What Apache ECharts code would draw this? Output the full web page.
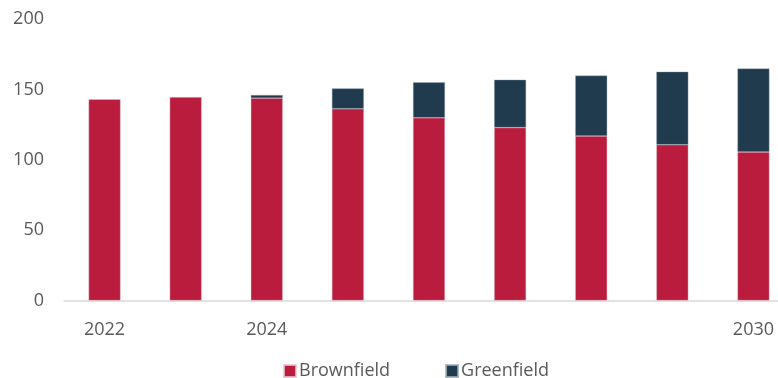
<!DOCTYPE html>
<html><head><meta charset="utf-8">
<script src="https://cdn.jsdelivr.net/npm/echarts@6/dist/echarts.min.js"></script>
<style>html,body{margin:0;padding:0;background:#fff}#c{width:778px;height:378px}</style>
</head><body><div id="c"></div>
<script>
const categories = ["2022","2023","2024","2025","2026","2027","2028","2029","2030"];
const tickLabels = ["2022","","2024","","","","","","2030"];
const brownfield = [143, 144.5, 143.8, 136.2, 129.8, 122.9, 116.9, 110.7, 105.5];
const greenfield = [0, 0, 2.2, 14.5, 25.2, 34, 42.9, 51.9, 59.3];
const yTicks = [0, 50, 100, 150, 200];

const font = "'Open Sans', 'Noto Sans', sans-serif";
const chart = echarts.init(document.getElementById('c'), null, {renderer: 'canvas'});
chart.setOption({
  animation: false,
  grid: {left: 64, width: 730, top: 19, bottom: 77.5, containLabel: false, outerBoundsMode: 'none'},
  legend: {
    data: ['Brownfield', 'Greenfield'],
    left: 278, top: 357,
    itemWidth: 12, itemHeight: 12, itemGap: 55,
    icon: 'rect',
    textStyle: {fontFamily: font, fontSize: 18, color: '#595959', padding: [0,0,0,-2]}
  },
  xAxis: {
    type: 'category', data: categories,
    axisLine: {lineStyle: {color: '#d9d9d9', width: 1.5}},
    axisTick: {show: false},
    axisLabel: {
      interval: 0, margin: 20, fontFamily: font, fontSize: 18, color: '#595959',
      formatter: (v, i) => tickLabels[i]
    }
  },
  yAxis: {
    type: 'value', min: yTicks[0], max: yTicks[yTicks.length-1], interval: 50,
    axisLine: {show: false}, axisTick: {show: false}, splitLine: {show: false},
    axisLabel: {margin: 20, fontFamily: font, fontSize: 18, color: '#595959'}
  },
  series: [
    {name: 'Brownfield', type: 'bar', stack: 's', data: brownfield, barWidth: 32,
     itemStyle: {color: '#BA1C3E', borderColor: 'rgba(230,200,210,0.8)', borderWidth: 0.5}},
    {name: 'Greenfield', type: 'bar', stack: 's', data: greenfield.map(v => v === 0 ? '-' : v), barWidth: 32,
     itemStyle: {color: '#1F3B4D', borderColor: 'rgba(160,175,185,0.8)', borderWidth: 0.5}}
  ]
});
</script></body></html>
